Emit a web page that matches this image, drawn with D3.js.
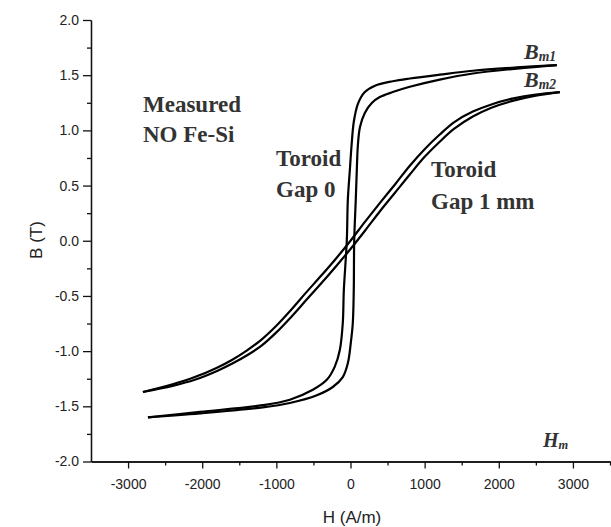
<!DOCTYPE html>
<html lang="en">
<head>
<meta charset="UTF-8">
<title>B-H loops</title>
<style>
  body { margin: 0; background: #fff; }
  .tick text { font-family: "Liberation Sans", Arial, sans-serif; font-size: 14px; fill: #222; }
  .note { font-family: "Liberation Serif", "Times New Roman", serif; font-weight: bold; fill: #333; }
</style>
</head>
<body>
<svg id="chart"></svg>
<script src="https://cdnjs.cloudflare.com/ajax/libs/d3/7.8.5/d3.min.js"></script>
<script>
// [H (A/m), B (T)]
const gap0Desc = [[2782,1.592],[2243,1.57],[1650,1.54],[1204,1.505],[800,1.47],[570,1.445],[330,1.405],[190,1.345],[100,1.24],[45,1.08],[15,0.87],[-9,0.64],[-36,0.37],[-50,0.0],[-90,-0.45],[-104,-0.745],[-144,-0.99],[-212,-1.14],[-320,-1.26],[-508,-1.35],[-818,-1.44],[-1183,-1.49],[-2031,-1.55],[-2732,-1.60]];
const gap0Asc = [[-2732,-1.60],[-2031,-1.565],[-1183,-1.51],[-818,-1.47],[-454,-1.40],[-239,-1.325],[-104,-1.235],[-36,-1.11],[4,-0.925],[31,-0.745],[44,-0.446],[50,0.0],[71,0.37],[85,0.64],[100,0.87],[128,1.03],[193,1.158],[287,1.248],[395,1.302],[570,1.347],[800,1.395],[1204,1.46],[1650,1.515],[2243,1.56],[2782,1.592]];
const gap1Desc = [[2823,1.347],[2500,1.325],[2200,1.29],[1900,1.235],[1650,1.17],[1400,1.075],[1200,0.96],[1000,0.83],[800,0.68],[600,0.51],[400,0.345],[200,0.175],[0,0.0],[-200,-0.165],[-400,-0.32],[-600,-0.47],[-800,-0.625],[-1000,-0.77],[-1200,-0.895],[-1400,-0.995],[-1600,-1.08],[-1800,-1.15],[-2100,-1.235],[-2400,-1.3],[-2800,-1.37]];
const gap1Asc = [[-2800,-1.37],[-2400,-1.315],[-2100,-1.26],[-1800,-1.18],[-1600,-1.115],[-1400,-1.04],[-1200,-0.95],[-1000,-0.83],[-800,-0.69],[-600,-0.54],[-400,-0.39],[-200,-0.235],[0,-0.075],[200,0.095],[400,0.27],[600,0.435],[800,0.6],[1000,0.76],[1200,0.895],[1400,1.015],[1650,1.125],[1900,1.205],[2200,1.27],[2500,1.315],[2823,1.347]];

const xTicks = [-3000,-2000,-1000,0,1000,2000,3000];
const xMinor = [-2500,-1500,-500,500,1500,2500,3500];
const yTicks = [-2.0,-1.5,-1.0,-0.5,0.0,0.5,1.0,1.5,2.0];
const yMinor = [-1.75,-1.25,-0.75,-0.25,0.25,0.75,1.25,1.75];

const width = 611, height = 527;
const svg = d3.select('#chart').attr('width', width).attr('height', height);

const x = d3.scaleLinear().domain([-3500, 3500]).range([91, 610]);
const y = d3.scaleLinear().domain([-2, 2]).range([461.5, 20]);

// axes
svg.append('g')
  .attr('transform', `translate(91,0)`)
  .call(d3.axisLeft(y).tickValues(yTicks).tickFormat(d => d.toFixed(1)).tickSize(8).tickSizeOuter(0).tickPadding(4));
svg.append('g')
  .attr('transform', `translate(91,0)`)
  .call(d3.axisLeft(y).tickValues(yMinor).tickFormat('').tickSize(4).tickSizeOuter(0));
svg.append('g')
  .attr('transform', `translate(0,461.5)`)
  .call(d3.axisBottom(x).tickValues(xTicks).tickFormat(d => String(d)).tickSize(7).tickSizeOuter(0).tickPadding(11));
svg.append('g')
  .attr('transform', `translate(0,461.5)`)
  .call(d3.axisBottom(x).tickValues(xMinor).tickFormat('').tickSize(4).tickSizeOuter(0));
svg.selectAll('.domain, .tick line').attr('stroke', '#111').attr('stroke-width', 1.3);

svg.append('text')
  .attr('x', 352).attr('y', 523)
  .attr('text-anchor', 'middle')
  .style('font-family', '"Liberation Sans", Arial, sans-serif').style('font-size', '17px').attr('fill', '#222')
  .text('H (A/m)');
svg.append('text')
  .attr('transform', 'translate(42,240) rotate(-90)')
  .attr('text-anchor', 'middle')
  .style('font-family', '"Liberation Sans", Arial, sans-serif').style('font-size', '17px').attr('fill', '#222')
  .text('B (T)');

// curves
const line = d3.line()
  .x(d => x(d[0]))
  .y(d => y(d[1]))
  .curve(d3.curveCatmullRom.alpha(0.5));

[gap0Desc, gap0Asc, gap1Desc, gap1Asc].forEach(s => {
  svg.append('path')
    .datum(s)
    .attr('d', line)
    .attr('fill', 'none')
    .attr('stroke', '#000')
    .attr('stroke-width', 2.2);
});

// annotations
function note(tx, ty, txt) {
  svg.append('text').attr('class', 'note').attr('x', tx).attr('y', ty)
    .style('font-size', '23px').text(txt);
}
note(143, 112, 'Measured');
note(143, 142, 'NO Fe-Si');
note(276, 166, 'Toroid');
note(276, 197, 'Gap 0');
note(431, 177, 'Toroid');
note(431, 209, 'Gap 1 mm');

function sym(tx, ty, main, sub, size) {
  const t = svg.append('text').attr('class', 'note').attr('x', tx).attr('y', ty)
    .style('font-style', 'italic').style('font-size', size + 'px');
  t.append('tspan').text(main);
  t.append('tspan').attr('dy', 2).style('font-size', (size * 0.62) + 'px').text(sub);
}
sym(524, 59, 'B', 'm1', 22);
sym(524, 87, 'B', 'm2', 22);
sym(543, 447, 'H', 'm', 20);
</script>
</body>
</html>
